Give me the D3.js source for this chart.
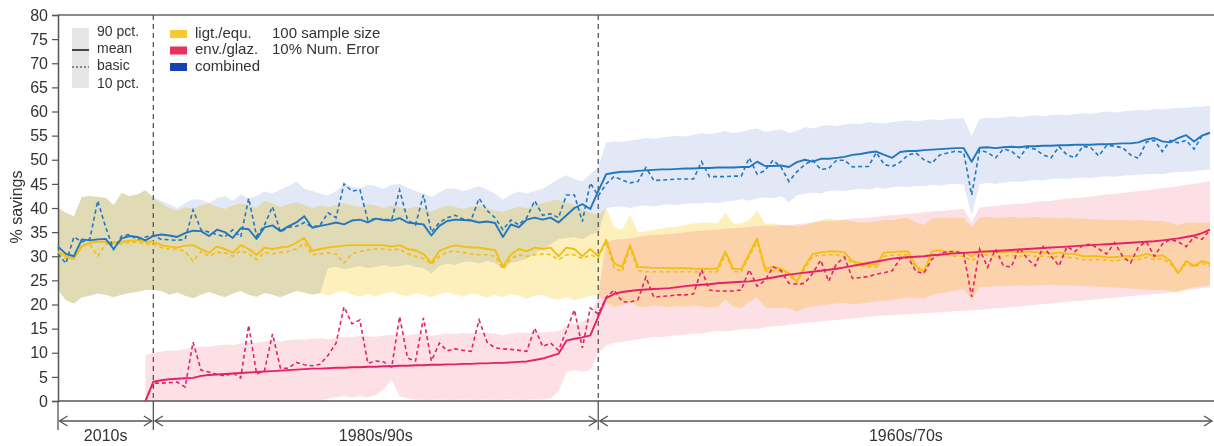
<!DOCTYPE html>
<html>
<head>
<meta charset="utf-8">
<script src="https://cdn.jsdelivr.net/npm/d3@7"></script>
<style>
  body { margin: 0; background: #fff; }
  svg { display: block; background: #fff; font-family: "Liberation Sans", Arial, sans-serif; }
  .band { mix-blend-mode: multiply; }
</style>
</head>
<body>
<div id="chart"></div>
<script>
var width = 1214;
var height = 446;

var yTicks = [0, 5, 10, 15, 20, 25, 30, 35, 40, 45, 50, 55, 60, 65, 70, 75, 80];
var sectionLabels = ["2010s", "1980s/90s", "1960s/70s"];
var sectionBreaks = [0, 12, 68, 145];

var _ = null;

// combined (blue)
var blueMean = [32,30.5,30,33.5,33.3,33.5,33.6,31.5,33.7,34.2,34,33.3,34.2,
  34.5,34.3,34.0,34.8,35.3,35.2,34.2,35.5,35.0,33.8,
  35.8,35.6,33.6,36.0,36.4,35.2,36.2,37.0,38.3,35.9,
  36.3,36.6,37.0,36.6,37.4,37.6,37.0,37.8,37.5,37.4,
  37.9,37.0,36.8,36.6,34.3,36.3,37.3,37.6,37.5,37.4,
  37.0,37.2,36.9,34.0,36.6,36.0,37.6,38.0,37.6,38.0,
  37.0,38.5,40.0,40.8,39.8,43.5,
  47.0,47.3,47.5,47.5,47.7,47.8,47.9,48.0,48.0,48.1,
  48.2,48.2,48.3,48.3,48.4,48.4,48.4,48.5,48.5,49.6,
  48.7,48.7,48.8,48.5,49.5,50.0,49.6,50.2,50.2,50.4,
  50.6,51.0,51.2,51.5,51.7,51.0,50.4,51.6,51.8,51.8,
  52.0,52.1,52.2,52.3,52.4,52.4,49.6,52.5,52.6,52.4,
  52.6,52.7,52.6,52.8,52.8,52.9,52.9,53.0,53.0,53.1,
  53.1,53.1,53.2,53.2,53.3,53.4,53.4,53.6,54.2,54.5,
  53.8,53.6,54.5,55.1,53.8,55.0,55.6];
var blueBasic = [30.5,28.5,34,33,33.5,41.5,36,31.4,34.2,34.5,33.5,34,34.3,
  33.5,33.4,33.3,33.5,39.6,35.5,35.0,34.5,34.0,35.5,
  34.0,42.0,34.2,36.5,40.3,35.0,36.0,36.2,37.0,36.0,
  36.5,39.0,38.0,45.0,43.5,43.8,37.5,37.8,37.6,37.6,
  43.7,37.5,36.5,42.7,35.0,37.0,38.0,38.5,37.7,37.5,
  42.0,39.5,38.0,35.5,37.5,36.5,38.0,41.5,38.5,38.8,
  38.0,42.7,42.7,37.2,45.2,42.5,
  45.0,46.5,45.8,45.2,45.5,48.4,45.7,45.8,45.9,46.0,
  46.0,46.0,49.6,46.5,46.5,46.5,46.6,46.6,50.4,47.0,
  47.8,49.9,48.5,45.5,47.5,49.0,49.9,48.0,48.2,49.9,
  49.9,48.5,48.6,48.6,51.5,49.0,48.6,49.5,51.0,51.4,
  50.0,49.3,51.0,51.4,51.8,51.5,42.7,52.0,51.5,50.4,
  52.2,51.8,50.4,52.6,52.2,51.0,50.4,52.7,51.0,50.4,
  52.8,52.5,50.8,53.0,52.8,52.5,51.0,50.3,53.7,54.0,
  51.7,54.0,53.5,54.0,52.2,55.0,55.5];
var blueP90 = [40,39,38.3,42.3,42.5,42.3,42.1,40.6,43.1,42.5,42.8,43.7,42.3,
  41.5,40.8,40.0,41.0,41.8,41.7,41.0,42.0,42.5,41.5,
  42.8,42.0,42.5,43.4,43.0,43.8,44.5,45.5,44.0,43.5,
  43.0,42.6,43.5,45.0,44.5,44.0,44.8,44.5,44.0,44.8,
  45.0,44.2,43.5,43.0,42.3,43.2,44.1,44.0,43.5,44.0,
  44.5,43.8,43.0,41.7,42.8,43.4,43.0,43.5,44.0,45.0,
  46.0,46.8,46.0,45.5,47.0,48.6,
  53.5,53.8,53.7,54.0,54.2,54.5,54.3,54.6,54.8,55.0,
  54.8,55.2,55.5,55.3,55.6,56.0,55.5,55.8,56.2,56.5,
  55.8,56.0,56.3,55.5,56.0,56.8,56.5,57.0,57.2,57.0,
  57.3,57.5,57.4,57.8,57.6,57.5,57.8,58.0,58.2,58.0,
  58.2,58.4,58.2,58.5,58.5,58.6,55.0,58.5,58.7,58.6,
  58.8,59.0,58.8,59.0,59.2,59.0,59.3,59.4,59.2,59.5,
  59.6,59.5,59.8,60.0,59.8,60.0,60.2,60.3,60.2,60.5,
  60.4,60.6,60.8,60.7,61.0,61.0,61.2];
var blueP10 = [23,20.9,20.2,21.5,21.8,22.3,22.0,21.5,22.0,22.4,22.6,23.0,23.0,
  22.8,22.0,22.5,21.8,21.3,22.0,22.6,22.0,21.5,22.3,
  22.8,22.0,21.6,22.4,22.0,21.5,22.2,22.8,22.5,22.0,
  22.4,27.5,27.8,27.3,27.6,28.0,27.5,27.8,28.2,27.8,
  28.0,28.3,27.8,27.5,26.5,28.0,28.5,28.2,28.8,28.9,
  28.5,29.0,28.6,27.5,28.6,29.0,29.5,30.5,31.5,32.5,
  33.5,33.8,34.0,33.5,34.5,35.0,
  40.0,40.2,40.3,40.0,40.4,40.5,40.3,40.6,40.8,40.6,
  40.9,41.0,41.0,41.2,41.0,41.3,41.5,41.8,41.5,42.0,
  42.2,42.0,42.5,41.2,42.6,43.0,43.2,43.0,43.5,43.7,
  43.5,43.8,44.0,43.8,44.2,44.0,44.3,44.5,44.3,44.6,
  44.5,44.8,44.6,44.9,45.0,44.8,38.5,45.0,45.2,45.0,
  45.3,45.5,45.4,45.6,45.8,45.7,46.0,46.1,46.0,46.2,
  46.3,46.2,46.5,46.6,46.5,46.7,46.8,46.9,47.0,47.1,
  47.0,47.3,47.4,47.5,47.6,47.8,48.0];

// ligt./equ. (yellow)
var yellowMean = [31,30,29.5,32,32.8,33,33,32.8,33,33.2,33.3,33,33,
  32.3,32.0,31.8,32.2,32.3,31.5,30.7,32.0,31.5,30.7,
  32.3,31.5,30.3,31.8,31.5,31.8,32.0,32.8,33.8,31.1,
  31.5,31.8,32.0,32.2,32.3,32.3,32.3,32.3,32.3,32.0,
  32.3,31.5,31.2,30.5,28.6,31.1,31.8,32.3,32.0,31.8,
  31.8,31.5,31.3,27.8,30.3,31.5,31.0,31.8,31.5,31.8,
  30.0,31.8,31.5,30.0,31.5,30.0,
  33.4,28.5,27.8,32.3,27.8,27.7,27.6,27.6,27.5,27.5,
  27.5,27.4,27.4,27.4,27.4,31.0,27.4,27.3,30.5,33.7,
  27.4,27.8,27.4,26.5,24.8,28.0,30.5,30.8,31.0,31.0,
  30.8,29.0,28.5,28.3,28.3,30.8,30.8,31.0,31.0,28.0,
  26.8,31.0,31.2,30.8,30.8,30.8,30.0,31.0,31.0,30.8,
  30.8,31.0,30.8,31.0,30.8,30.8,30.5,30.8,30.5,30.5,
  30.0,30.0,30.0,29.8,29.8,30.0,30.0,30.0,30.5,30.0,
  30.2,29.0,26.5,29.0,28.0,29.0,28.5];
var yellowBasic = [30.5,29.5,29.5,32.5,32.5,30,32.5,33,32.5,32.8,33,32.5,32.5,
  31.8,31.5,31.5,31.0,29.0,31.0,30.0,30.8,30.7,30.0,
  31.2,30.5,29.3,30.8,30.5,30.8,31.0,31.5,32.7,30.3,
  30.5,30.7,30.5,28.6,30.5,31.0,31.3,31.5,31.5,31.3,
  31.5,30.5,30.0,29.5,28.3,30.0,30.9,31.0,30.8,30.5,
  30.3,30.3,30.0,27.3,29.5,30.3,30.0,30.3,30.5,30.3,
  29.3,30.3,30.3,29.5,30.3,29.7,
  33.0,27.5,26.8,31.8,27.0,26.8,26.8,26.8,26.8,26.8,
  26.8,26.8,26.8,26.8,26.8,30.5,26.8,26.8,30.0,33.0,
  27.0,27.0,27.0,26.0,24.5,27.5,30.0,30.2,30.3,30.3,
  30.0,28.5,28.0,27.8,27.8,30.0,30.2,30.3,30.3,27.5,
  26.5,30.3,30.5,30.2,30.0,30.0,29.0,30.2,30.3,30.0,
  30.0,30.2,30.0,30.2,30.0,30.0,29.8,30.0,29.8,29.6,
  29.3,29.3,29.3,29.2,29.0,29.3,29.3,29.3,29.8,29.3,
  29.5,28.5,26.5,28.5,27.8,28.5,28.0];
var yellowP90 = [40,39,38.3,42.3,42.5,42.3,42.1,40.6,43.1,42.5,42.8,43.7,42,
  41.0,40.0,39.5,40.2,39.8,40.5,41.0,40.2,39.8,40.5,
  41.0,40.6,40.0,41.5,41.0,40.2,40.8,41.2,40.6,40.0,
  40.5,40.2,40.6,41.0,40.5,40.2,40.8,40.5,40.0,40.5,
  40.2,39.8,40.3,40.0,39.2,40.0,40.5,40.2,39.8,40.2,
  40.5,40.0,39.5,39.2,39.8,40.2,40.0,40.5,41.0,41.5,
  41.7,41.2,40.5,39.8,39.0,38.5,
  40.0,36.0,35.5,38.5,35.0,35.2,35.5,35.7,36.0,36.2,
  36.5,36.8,37.0,37.0,36.8,39.0,36.8,36.8,37.5,39.5,
  36.8,36.8,36.5,36.5,36.2,36.5,37.0,37.5,37.8,37.5,
  37.5,37.2,37.0,37.0,37.2,37.5,37.5,37.8,38.0,37.0,
  36.5,37.8,38.0,38.0,38.0,38.0,36.0,38.0,38.2,38.0,
  38.0,38.2,38.0,38.0,38.2,38.0,38.0,37.8,38.0,37.8,
  37.8,37.6,37.6,37.5,37.5,37.5,37.4,37.5,37.4,37.3,
  37.3,37.0,36.5,37.0,37.0,37.0,37.0];
var yellowP10 = [23,20.9,20.2,21.5,21.8,22.3,22.0,21.5,22.0,22.4,22.6,23.0,23.0,
  22.8,22.0,22.5,21.8,21.3,22.0,22.6,22.0,21.5,22.3,
  22.8,22.0,21.6,22.4,22.0,21.5,22.2,22.8,22.5,22.0,
  22.4,21.8,22.5,22.8,22.0,21.6,22.2,21.6,22.3,22.6,
  22.0,21.7,22.4,22.0,21.5,22.2,22.6,22.0,21.6,22.3,
  22.0,21.4,22.0,21.5,22.2,21.8,21.2,21.8,22.0,21.3,
  21.0,21.5,20.9,21.3,21.8,22.0,
  20.5,19.5,19.8,20.5,19.6,19.5,19.8,19.6,19.5,19.7,
  19.5,19.8,19.6,19.4,19.6,21.0,19.5,19.3,20.5,21.5,
  19.4,19.3,19.2,19.3,18.5,19.3,19.6,19.8,20.0,20.2,
  20.3,20.0,20.2,20.4,20.6,20.8,21.0,21.2,21.5,21.3,
  21.2,22.0,22.3,22.6,22.9,23.2,21.0,23.6,23.7,23.8,
  23.8,23.9,24.0,23.9,24.0,24.0,24.1,24.0,24.0,23.9,
  23.8,23.8,23.7,23.6,23.5,23.4,23.3,23.2,23.1,23.0,
  23.0,22.8,22.4,23.2,23.6,23.8,24.0];

// env./glaz. (pink)
var pinkMean = [_,_,_,_,_,_,_,_,_,_,_,0,4.0,
  4.3,4.5,4.6,4.7,4.8,5.2,5.4,5.5,5.6,5.7,
  5.8,5.9,6.0,6.1,6.2,6.3,6.4,6.5,6.6,6.7,
  6.7,6.8,6.9,6.9,7.0,7.0,7.1,7.1,7.2,7.2,
  7.3,7.3,7.4,7.4,7.5,7.5,7.6,7.6,7.7,7.7,
  7.8,7.8,7.9,7.9,8.0,8.1,8.2,8.5,8.8,9.3,
  9.8,12.5,12.9,13.2,13.6,17.5,
  21.3,22.2,22.6,22.8,23.0,23.1,23.2,23.3,23.4,23.6,
  23.8,24.0,24.1,24.2,24.4,24.5,24.6,24.7,24.8,25.0,
  25.3,25.6,25.9,26.2,26.4,26.6,26.8,27.0,27.2,27.4,
  27.7,28.0,28.3,28.6,28.9,29.2,29.5,29.7,29.8,29.9,
  30.0,30.2,30.3,30.5,30.6,30.7,30.8,30.9,31.0,31.1,
  31.2,31.3,31.4,31.5,31.6,31.7,31.8,31.9,32.0,32.1,
  32.2,32.3,32.4,32.5,32.6,32.7,32.8,32.9,33.0,33.1,
  33.3,33.5,33.7,34.0,34.3,34.8,35.5];
var pinkBasic = [_,_,_,_,_,_,_,_,_,_,_,0,3.7,
  3.7,3.8,3.9,2.9,12.2,6.4,6.0,5.5,5.2,5.8,
  4.8,15.7,5.6,6.3,13.9,6.8,6.8,8.0,7.5,7.3,
  7.6,9.5,12.0,19.5,16.0,16.8,7.8,8.3,8.1,7.0,
  17.5,8.9,8.3,17.2,8.3,12.0,10.4,10.8,10.5,10.3,
  16.8,12.2,11.0,10.8,10.7,10.5,10.3,15.1,11.3,12.0,
  10.5,14.6,18.9,11.0,19.3,18.0,
  21.5,23.0,20.6,20.5,21.0,25.7,21.5,21.7,21.8,22.0,
  22.0,22.2,27.2,23.0,22.8,22.8,22.8,23.0,27.2,23.8,
  25.0,27.8,27.0,24.4,24.2,24.4,26.5,29.2,24.8,28.5,
  29.8,25.4,25.6,25.8,26.3,26.6,27.0,29.5,29.8,26.8,
  26.5,29.4,30.5,31.0,31.0,30.5,21.6,31.5,27.7,31.5,
  28.0,27.8,31.8,29.5,28.0,32.0,30.0,28.0,32.0,31.0,
  32.3,32.5,31.5,30.5,32.8,30.0,28.6,32.0,33.0,30.0,
  32.5,33.5,33.0,32.0,34.0,33.5,35.5];
var pinkP90 = [_,_,_,_,_,_,_,_,_,_,_,9.5,10.0,
  10.2,10.5,10.4,10.8,11.1,11.3,11.2,11.5,11.7,11.6,
  11.9,12.1,12.0,12.4,12.5,12.3,12.6,12.8,12.7,12.9,
  13.0,12.8,13.1,13.3,13.2,13.5,13.4,13.3,13.6,13.7,
  13.8,13.6,13.9,14.0,13.5,13.8,14.0,13.9,14.1,14.0,
  14.2,14.1,14.0,13.6,14.0,14.2,14.1,14.3,14.2,14.4,
  14.5,15.5,16.0,16.5,17.0,22.0,
  33.0,33.4,33.5,33.7,34.0,34.3,34.4,34.5,34.6,34.8,
  35.0,35.2,35.3,35.4,35.5,35.7,35.8,35.9,36.1,36.2,
  36.3,36.3,36.5,36.4,36.7,36.8,37.0,37.2,37.3,37.4,
  37.6,37.8,37.9,38.0,38.2,38.4,38.5,38.6,38.8,38.9,
  39.1,39.3,39.4,39.5,39.7,39.8,37.0,40.1,40.3,40.4,
  40.6,40.8,40.9,41.0,41.3,41.4,41.5,41.7,42.0,42.0,
  42.2,42.4,42.6,42.8,42.9,43.1,43.3,43.5,43.7,43.9,
  44.1,44.3,44.5,44.8,45.0,45.3,45.6];
var pinkP10 = [_,_,_,_,_,_,_,_,_,_,_,0,0,
  0,0,0,0,0,0,0,0,0,0,
  0,0,0,0,0,0,0,0,0,0,
  0,0.5,0.8,1.0,0.8,1.0,0.8,1.2,2.5,4.4,
  1.0,0.5,0.3,0.2,0.2,0.3,0.2,0.2,0.3,0.2,
  0.2,0.3,0.2,0.2,0.3,0.2,0.2,0.3,0.3,0.5,
  2.0,6.0,6.4,6.0,6.5,10.0,
  11.5,12.0,12.3,12.5,12.8,13.0,13.3,13.2,13.5,13.6,
  13.8,14.0,14.0,14.3,14.5,14.4,14.6,14.8,15.0,15.0,
  15.3,15.5,15.6,15.8,16.0,16.2,16.3,16.5,16.7,16.8,
  17.0,17.1,17.3,17.4,17.6,17.7,17.8,17.9,18.0,18.1,
  18.2,18.3,18.4,18.5,18.6,18.7,18.8,18.9,19.0,19.2,
  19.3,19.5,19.6,19.8,19.9,20.1,20.2,20.4,20.5,20.7,
  20.8,21.0,21.1,21.3,21.4,21.6,21.7,21.9,22.0,22.2,
  22.3,22.5,22.8,23.0,23.2,23.4,23.6];

var series = [
  { name: "ligt./equ.", line: "#f4be12", swatch: "#f9c82e", band: "#fdf0bc",
    mean: yellowMean, basic: yellowBasic, lo: yellowP10, hi: yellowP90 },
  { name: "env./glaz.", line: "#e4216a", swatch: "#e8305a", band: "#fde0e6",
    mean: pinkMean, basic: pinkBasic, lo: pinkP10, hi: pinkP90 },
  { name: "combined", line: "#2377bf", swatch: "#1743b0", band: "#e2e8f6",
    mean: blueMean, basic: blueBasic, lo: blueP10, hi: blueP90 }
];

series.forEach(function (s) {
  [s.mean, s.basic, s.lo, s.hi].forEach(function (arr) {
    if (arr.length !== 146) throw new Error(s.name + " has " + arr.length + " points");
  });
});

var svg = d3.select("#chart").append("svg")
  .attr("width", width)
  .attr("height", height);

var x = d3.scaleLinear().domain([0, 145]).range([58, 1210]);
var y = d3.scaleLinear().domain([0, 80]).range([401, 15]);

// bands (drawn first, blended)
var area = d3.area()
  .defined(function (d) { return d.lo != null && d.hi != null; })
  .x(function (d) { return x(d.i); })
  .y0(function (d) { return y(d.lo); })
  .y1(function (d) { return y(d.hi); });

var bandOrder = [series[2], series[0], series[1]];
var bandGroup = svg.append("g");
bandOrder.forEach(function (s) {
  var pts = s.lo.map(function (v, i) { return { i: i, lo: v, hi: s.hi[i] }; });
  bandGroup.append("path")
    .attr("class", "band")
    .attr("d", area(pts))
    .attr("fill", s.band);
});

// frame
svg.append("line")
  .attr("x1", 58).attr("x2", width).attr("y1", y(80)).attr("y2", y(80))
  .attr("stroke", "#666").attr("stroke-width", 1.5);
svg.append("line")
  .attr("x1", 58).attr("x2", width).attr("y1", y(0)).attr("y2", y(0))
  .attr("stroke", "#555").attr("stroke-width", 1.5);

// y axis
var yAxis = d3.axisLeft(y).tickValues(yTicks).tickSize(6).tickPadding(4);
var yg = svg.append("g").attr("transform", "translate(58,0)").call(yAxis);
yg.select(".domain").attr("stroke", "#555").attr("stroke-width", 1.5);
yg.selectAll(".tick line").attr("stroke", "#555").attr("stroke-width", 1.2);
yg.selectAll(".tick text")
  .attr("fill", "#333")
  .style("font-size", "16px")
  .style("font-family", "'Liberation Sans', Arial, sans-serif");

svg.append("text")
  .attr("transform", "translate(18," + 207 + ") rotate(-90)")
  .attr("text-anchor", "middle")
  .attr("dominant-baseline", "middle")
  .attr("fill", "#333")
  .style("font-size", "16px")
  .text("% savings");

// section dividers and arrows
var arrowY = 421;
[sectionBreaks[1], sectionBreaks[2]].forEach(function (b) {
  svg.append("line")
    .attr("x1", x(b)).attr("x2", x(b)).attr("y1", y(80)).attr("y2", y(0))
    .attr("stroke", "#555").attr("stroke-width", 1.3)
    .attr("stroke-dasharray", "5,4");
});
sectionBreaks.slice(0, 3).forEach(function (b) {
  svg.append("line")
    .attr("x1", x(b)).attr("x2", x(b)).attr("y1", y(0)).attr("y2", 430)
    .attr("stroke", "#555").attr("stroke-width", 1.3);
});

sectionLabels.forEach(function (label, k) {
  var x0 = x(sectionBreaks[k]) + 1.5;
  var x1 = k === sectionLabels.length - 1 ? width - 2 : x(sectionBreaks[k + 1]) - 1.5;
  svg.append("line")
    .attr("x1", x0).attr("x2", x1).attr("y1", arrowY).attr("y2", arrowY)
    .attr("stroke", "#555").attr("stroke-width", 1.3);
  svg.append("polyline")
    .attr("points", [[x0 + 8, arrowY - 5], [x0, arrowY], [x0 + 8, arrowY + 5]].join(" "))
    .attr("fill", "none").attr("stroke", "#555").attr("stroke-width", 1.3);
  svg.append("polyline")
    .attr("points", [[x1 - 8, arrowY - 5], [x1, arrowY], [x1 - 8, arrowY + 5]].join(" "))
    .attr("fill", "none").attr("stroke", "#555").attr("stroke-width", 1.3);
  svg.append("text")
    .attr("x", (x0 + x1) / 2)
    .attr("y", 441)
    .attr("text-anchor", "middle")
    .attr("fill", "#333")
    .style("font-size", "16px")
    .text(label);
});

// lines
var line = d3.line()
  .defined(function (d) { return d != null; })
  .x(function (d, i) { return x(i); })
  .y(function (d) { return y(d); });

var lineGroup = svg.append("g").attr("fill", "none");
[series[0], series[2], series[1]].forEach(function (s) {
  lineGroup.append("path")
    .attr("d", line(s.basic))
    .attr("stroke", s.line)
    .attr("stroke-width", 1.6)
    .attr("stroke-dasharray", "4,3");
  lineGroup.append("path")
    .attr("d", line(s.mean))
    .attr("stroke", s.line)
    .attr("stroke-width", 1.9)
    .attr("stroke-linejoin", "round");
});

// legend: statistics
var leg = svg.append("g").attr("fill", "#333");
leg.append("rect")
  .attr("x", 72).attr("y", 28).attr("width", 17).attr("height", 60)
  .attr("fill", "#e6e6e6");
leg.append("line")
  .attr("x1", 72).attr("x2", 89).attr("y1", 50).attr("y2", 50)
  .attr("stroke", "#333").attr("stroke-width", 1.8);
leg.append("line")
  .attr("x1", 72).attr("x2", 89).attr("y1", 67).attr("y2", 67)
  .attr("stroke", "#333").attr("stroke-width", 1.1).attr("stroke-dasharray", "2,2");
var statLabels = ["90 pct.", "mean", "basic", "10 pct."];
var statY = [32, 49, 66, 84];
statLabels.forEach(function (t, k) {
  leg.append("text")
    .attr("x", 97).attr("y", statY[k])
    .attr("dominant-baseline", "middle")
    .style("font-size", "14px")
    .text(t);
});

// legend: series
series.forEach(function (s, k) {
  leg.append("rect")
    .attr("x", 170).attr("y", 30 + k * 16.5).attr("width", 17).attr("height", 8)
    .attr("fill", s.swatch);
  leg.append("text")
    .attr("x", 195).attr("y", 34 + k * 16.5)
    .attr("dominant-baseline", "middle")
    .style("font-size", "15px")
    .text(s.name);
});

var notes = ["100 sample size", "10% Num. Error"];
notes.forEach(function (t, k) {
  leg.append("text")
    .attr("x", 272).attr("y", 34 + k * 16.5)
    .attr("dominant-baseline", "middle")
    .style("font-size", "15px")
    .text(t);
});
</script>
</body>
</html>
